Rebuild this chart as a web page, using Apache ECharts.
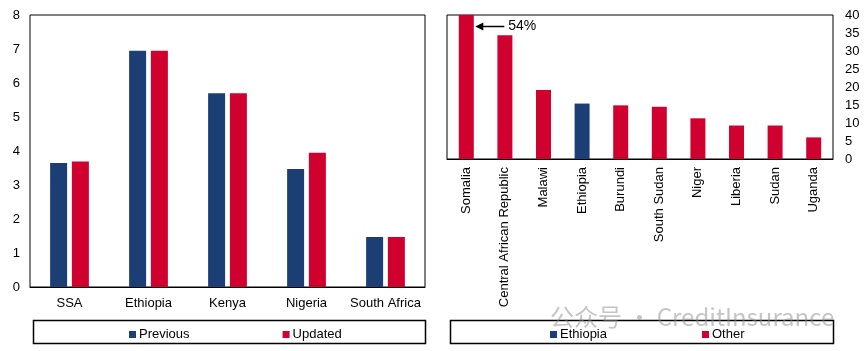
<!DOCTYPE html>
<html>
<head>
  <meta charset="UTF-8">
  <title>Chart</title>
  <script src="https://cdn.jsdelivr.net/npm/echarts@6/dist/echarts.min.js"></script>
  <style>
    body { margin: 0; background: #fff; }
    #chart { width: 865px; height: 351px; }
  </style>
</head>
<body>
  <div id="chart"></div>
  <script type="text/javascript">
    // left panel
    const countries = ['SSA', 'Ethiopia', 'Kenya', 'Nigeria', 'South Africa'];
    const previous = [3.65, 6.95, 5.7, 3.47, 1.47];
    const updated = [3.69, 6.95, 5.7, 3.95, 1.47];
    const leftTicks = [0, 1, 2, 3, 4, 5, 6, 7, 8];

    // right panel
    const rightCountries = ['Somalia', 'Central African Republic', 'Malawi', 'Ethiopia', 'Burundi',
      'South Sudan', 'Niger', 'Liberia', 'Sudan', 'Uganda'];
    const ethiopiaVals = ['-', '-', '-', 15.4, '-', '-', '-', '-', '-', '-'];
    const otherVals = [54, 34.4, 19.2, '-', 14.9, 14.5, 11.3, 9.3, 9.3, 6.0];
    const rightTicks = [0, 5, 10, 15, 20, 25, 30, 35, 40];

    const navy = '#1b3f74';
    const red = '#d0002f';
    const font = 'Liberation Sans, Arial, sans-serif';

    const chart = echarts.init(document.getElementById('chart'));

    const option = {
      animation: false,
      textStyle: { fontFamily: font, color: '#000' },
      grid: [
        { left: 30, top: 15, width: 395, height: 272, show: true, borderColor: '#000', borderWidth: 1 },
        { left: 447, top: 15, width: 386, height: 144, show: true, borderColor: '#000', borderWidth: 1 }
      ],
      legend: [
        {
          data: ['Previous', 'Updated'], left: 124, top: 323, itemWidth: 7, itemHeight: 7, itemGap: 93,
          icon: 'rect', textStyle: { fontSize: 13, fontFamily: font, color: '#000', padding: [0, 0, 0, -2] }
        },
        {
          data: ['Ethiopia', 'Other'], left: 545, top: 323, itemWidth: 7, itemHeight: 7, itemGap: 95,
          icon: 'rect', textStyle: { fontSize: 13, fontFamily: font, color: '#000', padding: [0, 0, 0, -2] }
        }
      ],
      xAxis: [
        {
          gridIndex: 0, type: 'category', data: countries,
          axisLine: { lineStyle: { color: '#000' } }, axisTick: { show: false },
          axisLabel: { fontSize: 13, color: '#000', margin: 10, interval: 0 }
        },
        {
          gridIndex: 1, type: 'category', data: rightCountries,
          axisLine: { lineStyle: { color: '#000' } }, axisTick: { show: false },
          axisLabel: { fontSize: 13, color: '#000', rotate: 90, margin: 8, interval: 0 }
        }
      ],
      yAxis: [
        {
          gridIndex: 0, type: 'value', min: leftTicks[0], max: leftTicks[leftTicks.length - 1], interval: 1,
          splitLine: { show: false }, axisLine: { show: false }, axisTick: { show: false },
          axisLabel: { fontSize: 13, color: '#000', margin: 10 }
        },
        {
          gridIndex: 1, type: 'value', position: 'right', min: rightTicks[0], max: rightTicks[rightTicks.length - 1], interval: 5,
          splitLine: { show: false }, axisLine: { show: false }, axisTick: { show: false },
          axisLabel: { fontSize: 13, color: '#000', margin: 12 }
        }
      ],
      series: [
        { name: 'Previous', type: 'bar', xAxisIndex: 0, yAxisIndex: 0, data: previous, barWidth: 17, barGap: '28%', itemStyle: { color: navy } },
        { name: 'Updated', type: 'bar', xAxisIndex: 0, yAxisIndex: 0, data: updated, barWidth: 17, itemStyle: { color: red } },
        { name: 'Ethiopia', type: 'bar', xAxisIndex: 1, yAxisIndex: 1, stack: 'r', data: ethiopiaVals, barWidth: 15, itemStyle: { color: navy } },
        { name: 'Other', type: 'bar', xAxisIndex: 1, yAxisIndex: 1, stack: 'r', data: otherVals, barWidth: 15, clip: true, itemStyle: { color: red } }
      ]
    };
    chart.setOption(option);

    // annotation for the clipped Somalia bar, plus legend frames and watermark
    const tip = chart.convertToPixel({ xAxisIndex: 1, yAxisIndex: 1 }, ['Somalia', 37]);
    const ax = tip[0] + 9, ay = Math.round(tip[1]) + 0.5;
    chart.setOption({
      graphic: [
        { type: 'line', shape: { x1: ax + 4, y1: ay, x2: ax + 29, y2: ay }, style: { stroke: '#000', lineWidth: 1.5 } },
        { type: 'polygon', shape: { points: [[ax, ay], [ax + 8, ay - 4], [ax + 8, ay + 4]] }, style: { fill: '#000' } },
        { type: 'text', x: ax + 33, y: ay, style: { text: '54%', font: '14px ' + font, fill: '#000', verticalAlign: 'middle' } },
        { type: 'rect', shape: { x: 33.5, y: 320.5, width: 392, height: 23 }, style: { fill: 'none', stroke: '#000', lineWidth: 1.5 } },
        { type: 'rect', shape: { x: 450.5, y: 320.5, width: 383, height: 23 }, style: { fill: 'none', stroke: '#000', lineWidth: 1.5 } },
        { type: 'text', x: 550, y: 317, z: 100, style: { text: '公众号 · CreditInsurance', font: '24px Noto Sans CJK SC', fill: 'rgba(140,140,140,0.5)', verticalAlign: 'middle' } }
      ]
    });
  </script>
</body>
</html>
